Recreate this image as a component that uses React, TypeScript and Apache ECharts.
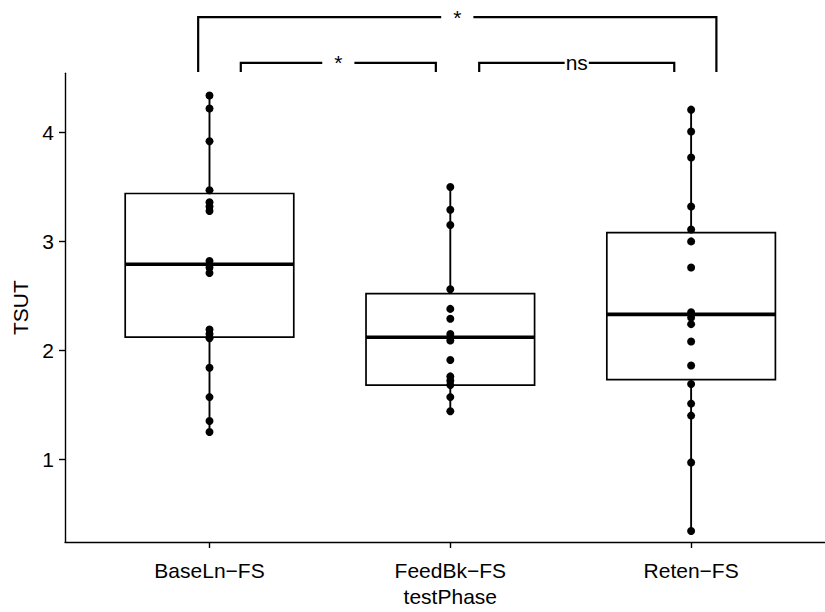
import React, { useEffect, useRef } from "react";
import * as echarts from "echarts";

const categories = ["BaseLn−FS", "FeedBk−FS", "Reten−FS"];
const yTicks = [1, 2, 3, 4];

const baselnValues = [4.34, 4.22, 3.92, 3.47, 3.36, 3.32, 3.28, 2.82, 2.76, 2.71, 2.19, 2.15, 2.11, 1.84, 1.57, 1.35, 1.25];
const feedbkValues = [3.5, 3.29, 3.15, 2.56, 2.38, 2.29, 2.15, 2.12, 2.09, 1.91, 1.76, 1.72, 1.68, 1.57, 1.44];
const retenValues = [4.21, 4.01, 3.77, 3.32, 3.11, 3.0, 2.76, 2.35, 2.3, 2.24, 2.08, 1.86, 1.69, 1.51, 1.4, 0.97, 0.34];

const q1Values = [2.12, 1.68, 1.73];
const medianValues = [2.79, 2.12, 2.33];
const q3Values = [3.44, 2.52, 3.08];

// significance brackets (x in group units, y in TSUT units)
const bracketFrom = [1.13, 0.953, 2.12];
const bracketTo = [1.94, 3.105, 2.93];
const bracketLevel = [4.64, 5.06, 4.64];
const bracketTip = [4.556, 4.556, 4.556];
const bracketLabels = ["*", "*", "ns"];

const FONT = "'Liberation Sans', Arial, Helvetica, sans-serif";

export default function App() {
  const ref = useRef<HTMLDivElement>(null);

  useEffect(() => {
    if (!ref.current) return;
    const chart = echarts.init(ref.current, undefined, { renderer: "svg" });

    const groups = [baselnValues, feedbkValues, retenValues];
    const boxData = groups.map((vals, i) => [
      i + 1,
      q1Values[i],
      medianValues[i],
      q3Values[i],
      Math.min(...vals),
      Math.max(...vals),
    ]);
    const pointData: number[][] = [];
    groups.forEach((vals, i) => vals.forEach((v) => pointData.push([i + 1, v])));
    const bracketData = bracketFrom.map((f, i) => [f, bracketTo[i], bracketLevel[i], bracketTip[i]]);

    const option: any = {
      animation: false,
      backgroundColor: "#fff",
      grid: { left: 65, top: 73.3, width: 770.6, height: 469.7, containLabel: false },
      xAxis: {
        type: "value",
        min: 0.4,
        max: 3.6,
        name: "testPhase",
        nameLocation: "middle",
        nameGap: 44,
        nameTextStyle: { fontFamily: FONT, fontSize: 21, color: "#000" },
        splitLine: { show: false },
        axisLine: { show: true, lineStyle: { color: "#000", width: 1.4 } },
        axisTick: { show: true, length: 6, customValues: [1, 2, 3], lineStyle: { color: "#000", width: 1.4 } },
        axisLabel: {
          customValues: [1, 2, 3],
          formatter: (v: number) => categories[Math.round(v) - 1] ?? "",
          fontFamily: FONT,
          fontSize: 21,
          color: "#000",
          margin: 18,
        },
      },
      yAxis: {
        type: "value",
        min: 0.239,
        max: 4.544,
        name: "TSUT",
        nameLocation: "middle",
        nameGap: 31,
        nameRotate: 90,
        nameTextStyle: { fontFamily: FONT, fontSize: 21, color: "#000" },
        splitLine: { show: false },
        axisLine: { show: true, lineStyle: { color: "#000", width: 1.4 } },
        axisTick: { show: true, length: 6, customValues: yTicks, lineStyle: { color: "#000", width: 1.4 } },
        axisLabel: {
          customValues: yTicks,
          fontFamily: FONT,
          fontSize: 21,
          color: "#000",
          margin: 11,
        },
      },
      series: [
        {
          type: "custom",
          z: 2,
          clip: false,
          data: boxData,
          encode: { x: 0, y: [1, 2, 3, 4, 5] },
          renderItem: (params: any, api: any) => {
            const x = api.value(0);
            const half = 0.35;
            const pl = api.coord([x - half, api.value(1)]);
            const pr = api.coord([x + half, api.value(3)]);
            const pm = api.coord([x, api.value(2)]);
            const yMin = api.coord([x, api.value(4)])[1];
            const yMax = api.coord([x, api.value(5)])[1];
            const xc = pm[0];
            const lw = 1.7;
            return {
              type: "group",
              children: [
                { type: "line", shape: { x1: xc, y1: pr[1], x2: xc, y2: yMax }, style: { stroke: "#000", lineWidth: 1.9 } },
                { type: "line", shape: { x1: xc, y1: pl[1], x2: xc, y2: yMin }, style: { stroke: "#000", lineWidth: 1.9 } },
                {
                  type: "rect",
                  shape: { x: pl[0], y: pr[1], width: pr[0] - pl[0], height: pl[1] - pr[1] },
                  style: { fill: "#fff", stroke: "#000", lineWidth: lw },
                },
                { type: "line", shape: { x1: pl[0], y1: pm[1], x2: pr[0], y2: pm[1] }, style: { stroke: "#000", lineWidth: 3.6 } },
              ],
            };
          },
        },
        {
          type: "scatter",
          z: 3,
          data: pointData,
          symbol: "circle",
          symbolSize: 8,
          itemStyle: { color: "#000", opacity: 1 },
        },
        {
          type: "custom",
          z: 4,
          clip: false,
          data: bracketData,
          encode: { x: [0, 1], y: [2, 3] },
          renderItem: (params: any, api: any) => {
            const a = api.coord([api.value(0), api.value(2)]);
            const b = api.coord([api.value(1), api.value(2)]);
            const tipY = api.coord([api.value(0), api.value(3)])[1];
            const label = bracketLabels[params.dataIndex];
            const pad = label === "ns" ? 1 : 12;
            return {
              type: "group",
              children: [
                {
                  type: "polyline",
                  shape: { points: [[a[0], tipY], [a[0], a[1]], [b[0], b[1]], [b[0], tipY]] },
                  style: { stroke: "#000", lineWidth: 2.2, fill: "none" },
                },
                {
                  type: "text",
                  x: (a[0] + b[0]) / 2,
                  y: a[1],
                  style: {
                    text: label,
                    align: "center",
                    verticalAlign: "middle",
                    fontFamily: FONT,
                    fontSize: 21,
                    fill: "#000",
                    backgroundColor: "#fff",
                    padding: [0, pad],
                  },
                },
              ],
            };
          },
        },
      ],
    };

    chart.setOption(option);
    return () => chart.dispose();
  }, []);

  return (
    <div
      style={{ position: "absolute", left: 0, top: 0, width: 825, height: 612, overflow: "hidden", background: "#fff" }}
    >
      <div ref={ref} style={{ width: 850, height: 612 }} />
    </div>
  );
}
